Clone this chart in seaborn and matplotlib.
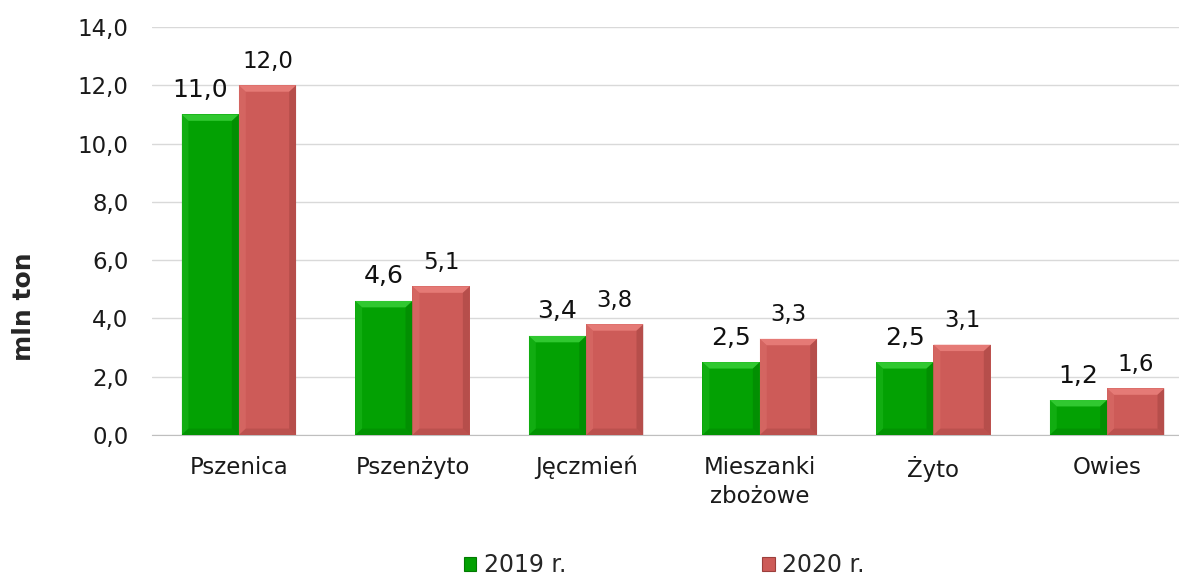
import numpy as np
import pandas as pd
import matplotlib
matplotlib.use("Agg")
import matplotlib.pyplot as plt
from matplotlib.patches import Polygon
import seaborn as sns

# --- DANE ---
zboza = ["Pszenica", "Pszenżyto", "Jęczmień", "Mieszanki\nzbożowe", "Żyto", "Owies"]
lata = ["2019 r.", "2020 r."]
v2019 = [11.0, 4.6, 3.4, 2.5, 2.5, 1.2]
v2020 = [12.0, 5.1, 3.8, 3.3, 3.1, 1.6]

kolory = {"2019 r.": "#03a103", "2020 r.": "#cd5b58"}
jasne = {"2019 r.": "#3cd23c", "2020 r.": "#ec837e"}
ciemne = {"2019 r.": "#027a02", "2020 r.": "#9c3f3c"}

df = pd.DataFrame({
    "zboze": zboza * 2,
    "rok": [lata[0]] * len(zboza) + [lata[1]] * len(zboza),
    "wartosc": v2019 + v2020,
})

# --- STYL ---
sns.set_style("white")
plt.rcParams["font.family"] = ["DejaVu Sans"]

fig = plt.figure(figsize=(11.79, 5.75), dpi=100)
ax = fig.add_axes([152 / 1179, 140 / 575, 1 - 152 / 1179, 408 / 575])

sns.barplot(data=df, x="zboze", y="wartosc", hue="rok", palette=kolory,
            width=0.66, saturation=1, linewidth=0, ax=ax, legend=False, zorder=3)

ax.set_ylim(0, 14)
ax.set_xlim(-0.5, 5.414)
ax.set_yticks(np.arange(0, 15, 2))
ax.set_yticklabels([f"{t:.1f}".replace(".", ",") for t in np.arange(0, 15, 2)])
ax.yaxis.grid(True, color="#d9d9d9", lw=1)
ax.set_axisbelow(True)
for s in ["top", "right", "left"]:
    ax.spines[s].set_visible(False)
ax.spines["bottom"].set_color("#bfbfbf")
ax.tick_params(axis="y", length=0, pad=17, labelsize=16.5, colors="#1a1a1a")
ax.tick_params(axis="x", length=0, pad=15, labelsize=16.5, colors="#1a1a1a")
for t in ax.get_xticklabels():
    t.set_linespacing(1.35)
ax.set_xlabel("")
ax.set_ylabel("")

# efekt fazowania (bevel) na słupkach
bx, by = 0.04, 0.22
for cont, rok in zip(ax.containers, lata):
    for p in cont.patches:
        x0, y0 = p.get_x(), p.get_y()
        w, h = p.get_width(), p.get_height()
        x1, y1 = x0 + w, y0 + h
        dy = min(by, h / 3)
        top = Polygon([[x0, y1], [x1, y1], [x1 - bx, y1 - dy], [x0 + bx, y1 - dy]],
                      closed=True, fc=jasne[rok], ec="none", zorder=4, alpha=0.8)
        left = Polygon([[x0, y1], [x0, y0], [x0 + bx, y0 + dy], [x0 + bx, y1 - dy]],
                       closed=True, fc=jasne[rok], ec="none", zorder=4, alpha=0.25)
        right = Polygon([[x1, y1], [x1, y0], [x1 - bx, y0 + dy], [x1 - bx, y1 - dy]],
                        closed=True, fc=ciemne[rok], ec="none", zorder=4, alpha=0.45)
        bottom = Polygon([[x0, y0], [x1, y0], [x1 - bx, y0 + dy], [x0 + bx, y0 + dy]],
                         closed=True, fc=ciemne[rok], ec="none", zorder=4, alpha=0.35)
        for poly in (top, left, right, bottom):
            ax.add_patch(poly)

# etykiety wartości
for cont, rok in zip(ax.containers, lata):
    etyk = [f"{v:.1f}".replace(".", ",") for v in cont.datavalues]
    rozmiar = 18 if rok == "2019 r." else 16.5
    teksty = ax.bar_label(cont, labels=etyk, padding=9, fontsize=rozmiar, color="#111111")
    if rok == "2019 r.":
        # szeroka etykieta (dwucyfrowa) przesunięta w lewo, jak w Excelu
        for t, v in zip(teksty, cont.datavalues):
            if v >= 10:
                t.set_ha("right")
                t.xyann = (12.5, 9)

fig.text(24 / 1179, 1 - 307 / 575, "mln ton", rotation=90, fontsize=18,
         fontweight="bold", ha="center", va="center")

# legenda
uchwyty = [plt.Rectangle((0, 0), 1, 1, fc=kolory[r], ec=ciemne[r], lw=0.8) for r in lata]
fig.legend(uchwyty, lata, loc="center", bbox_to_anchor=(664 / 1179, 1 - 565 / 575),
           ncol=2, frameon=False, fontsize=17, handlelength=0.55, handleheight=0.55,
           handletextpad=0.3, columnspacing=8.3, borderpad=0, borderaxespad=0)

fig.savefig("out.png", dpi=100)
